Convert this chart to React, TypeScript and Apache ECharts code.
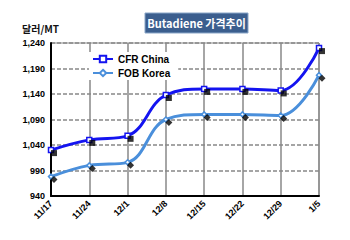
import React, { useEffect, useRef } from "react";
import * as echarts from "echarts";

const categories = ["11/17", "11/24", "12/1", "12/8", "12/15", "12/22", "12/29", "1/5"];
const cfrChina = [1030, 1050, 1058, 1138, 1150, 1150, 1147, 1230];
const fobKorea = [978, 1000, 1006, 1090, 1100, 1100, 1098, 1177];
const yTicks = { min: 940, max: 1240, step: 50 };

export default function App() {
  const ref = useRef<HTMLDivElement>(null);
  useEffect(() => {
    if (!ref.current) return;
    const chart = echarts.init(ref.current, null, { renderer: "svg" });
    const font = "Arial, 'Liberation Sans', 'Noto Sans CJK KR', sans-serif";
    chart.setOption({
      animation: false,
      backgroundColor: "#fff",
      grid: { left: 51, right: 31, top: 43, bottom: 44, show: true, borderColor: "#888", borderWidth: 1 },
      graphic: [
        {
          type: "rect",
          shape: { x: 145, y: 13, width: 103, height: 20 },
          style: { fill: "#3b5e8e", stroke: "#8aa6c8", lineWidth: 1 },
        },
        {
          type: "text",
          x: 196.5,
          y: 23,
          style: {
            text: "Butadiene 가격추이",
            fill: "#fff",
            font: "bold 11px 'Noto Sans CJK KR', Arial, sans-serif",
            align: "center",
            verticalAlign: "middle",
          },
        },
        {
          type: "text",
          x: 22,
          y: 28,
          style: {
            text: "달러/MT",
            fill: "#111",
            font: "bold 10px 'Noto Sans CJK KR', Arial, sans-serif",
            align: "left",
            verticalAlign: "middle",
          },
        },
      ],
      legend: {
        data: ["CFR China", "FOB Korea"],
        orient: "vertical",
        left: 89,
        top: 52,
        itemWidth: 20,
        itemHeight: 8,
        itemGap: 4,
        padding: [2, 8, 2, 3],
        backgroundColor: "#fff",
        textStyle: { fontFamily: font, fontWeight: "bold", fontSize: 10, color: "#000" },
      },
      xAxis: {
        type: "category",
        data: categories,
        boundaryGap: false,
        axisLine: { lineStyle: { color: "#000", width: 2 } },
        axisTick: { show: false },
        axisLabel: { rotate: 45, fontFamily: font, fontWeight: "bold", fontSize: 9, color: "#000", margin: 6 },
        splitLine: { show: true, lineStyle: { color: "#888", width: 1.5 } },
      },
      yAxis: {
        type: "value",
        min: yTicks.min,
        max: yTicks.max,
        interval: yTicks.step,
        axisLine: { show: true, lineStyle: { color: "#000", width: 2 } },
        axisTick: { show: false },
        axisLabel: {
          fontFamily: font,
          fontWeight: "bold",
          fontSize: 9,
          color: "#000",
          margin: 6,
          formatter: (v: number) => v.toLocaleString("en-US"),
        },
        splitLine: { show: true, lineStyle: { color: "#888", width: 1.5, type: [4, 2] } },
      },
      series: [
        {
          name: "CFR China",
          type: "line",
          data: cfrChina,
          smooth: 0.4,
          z: 3,
          lineStyle: { color: "#1414f0", width: 3 },
          itemStyle: { color: "#fff", borderColor: "#1414f0", borderWidth: 1.5 },
          symbol: "rect",
          symbolSize: 5,
        },
        {
          name: "FOB Korea",
          type: "line",
          data: fobKorea,
          smooth: 0.4,
          z: 3,
          lineStyle: { color: "#4a8fdb", width: 3 },
          itemStyle: { color: "#fff", borderColor: "#4a8fdb", borderWidth: 1.5 },
          symbol: "diamond",
          symbolSize: 5,
        },
        {
          name: "cfrMarks",
          type: "scatter",
          data: cfrChina,
          symbol: "rect",
          symbolSize: 6,
          symbolOffset: [3, 3],
          itemStyle: { color: "#000" },
          z: 4,
        },
        {
          name: "fobMarks",
          type: "scatter",
          data: fobKorea,
          symbol: "diamond",
          symbolSize: 7,
          symbolOffset: [3, 3],
          itemStyle: { color: "#000" },
          z: 4,
        },
      ],
    });
    return () => chart.dispose();
  }, []);
  return <div ref={ref} style={{ width: 350, height: 240, margin: -8 }} />;
}
